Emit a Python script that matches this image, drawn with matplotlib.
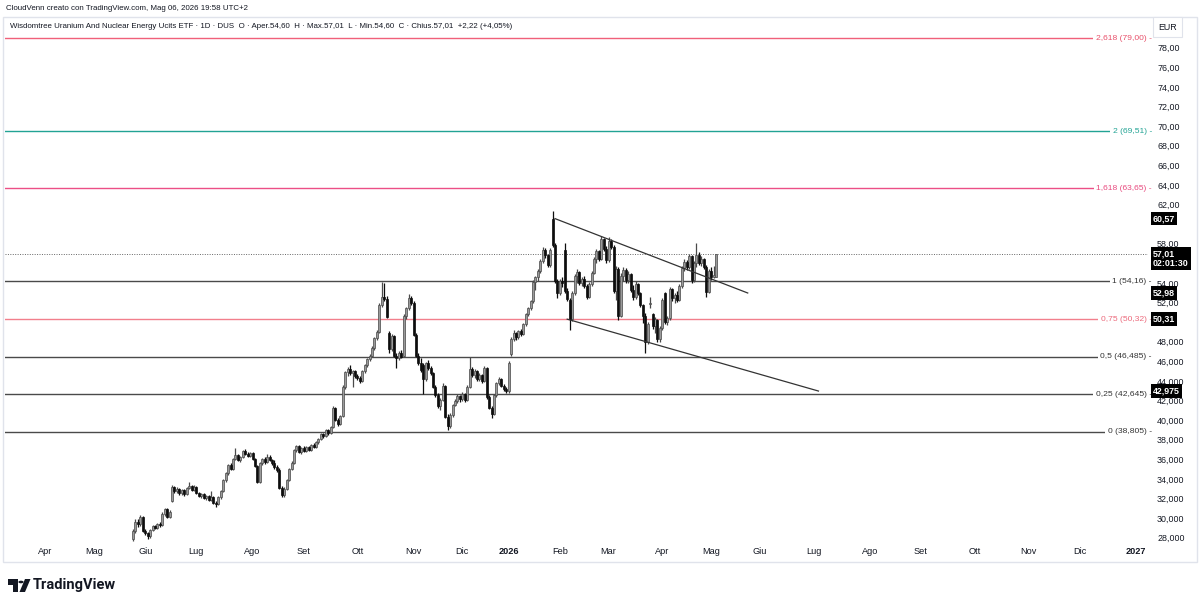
import numpy as np
import pandas as pd
import matplotlib
matplotlib.use("Agg")
import matplotlib.pyplot as plt
import matplotlib.transforms as mtransforms
from matplotlib.patches import Rectangle, Polygon, Circle
from matplotlib.ticker import FuncFormatter

# ---------------- data ----------------
first_date = "2025-05-26"
last_date = "2026-05-06"
holidays = ["2025-04-18", "2025-04-21", "2025-05-01", "2025-12-24", "2025-12-25",
            "2025-12-26", "2025-12-31", "2026-01-01", "2026-04-03", "2026-04-06",
            "2026-05-01"]

opens = [
    27.9, 28.7, 29.6, 29.4, 30.1, 28.7, 28.5, 28.2, 28.8, 29.2,
    29.0, 29.4, 29.3, 30.4, 30.9, 30.1, 31.8, 33.2, 32.8, 33.0,
    32.6, 32.9, 32.5, 33.1, 33.3, 32.9, 33.2, 32.6, 32.3, 32.5,
    32.1, 32.3, 31.9, 32.2, 31.6, 31.4, 32.2, 32.8, 33.9, 34.6,
    35.4, 35.0, 36.0, 36.5, 35.9, 36.2, 36.9, 36.6, 36.3, 36.7,
    36.0, 35.3, 33.7, 35.6, 36.0, 35.7, 36.2, 35.9, 35.6, 35.2,
    34.9, 33.1, 32.4, 33.0, 33.9, 35.0, 35.6, 37.0, 37.4, 36.8,
    37.2, 36.9, 37.3, 37.0, 37.5, 37.3, 37.8, 38.1, 38.6, 38.4,
    39.0, 38.7, 39.3, 41.2, 40.0, 39.6, 40.4, 43.4, 44.9, 45.2,
    44.8, 45.0, 44.5, 44.3, 44.0, 45.0, 45.6, 46.2, 46.6, 47.4,
    48.4, 49.0, 51.8, 52.6, 52.4, 48.9, 47.3, 48.6, 46.6, 46.3,
    46.9, 46.6, 50.6, 51.4, 52.5, 52.0, 48.7, 46.6, 45.8, 45.6,
    44.2, 45.8, 45.3, 44.8, 43.4, 42.6, 41.4, 42.1, 43.5, 40.3,
    39.4, 40.5, 41.6, 42.0, 42.5, 42.2, 42.7, 42.1, 43.4, 45.2,
    44.6, 45.0, 44.2, 44.6, 44.0, 45.3, 42.4, 41.2, 40.6, 42.6,
    43.8, 44.2, 43.5, 43.2, 43.0, 46.8, 48.3, 48.9, 48.5, 49.1,
    48.8, 49.8, 50.8, 51.4, 52.2, 54.1, 54.6, 55.2, 56.2, 57.4,
    56.9, 55.8, 60.5, 57.9, 54.2, 53.0, 54.2, 57.4, 53.2, 52.3,
    50.3, 53.0, 54.7, 55.1, 54.0, 54.4, 53.7, 52.6, 53.9, 55.0,
    56.5, 57.3, 56.4, 58.5, 57.5, 56.3, 58.3, 57.7, 53.2, 55.4,
    50.6, 54.7, 55.3, 54.3, 54.9, 53.3, 52.6, 53.9, 53.0, 51.8,
    50.6, 48.0, 51.9, 50.8, 49.6, 50.2, 48.3, 49.4, 53.0, 50.0,
    50.4, 53.4, 52.5, 52.8, 52.3, 53.7, 55.5, 56.1, 55.6, 56.8,
    54.3, 56.0, 56.9, 56.0, 56.5, 55.6, 53.1, 55.2, 54.6, 54.60,
]
highs = [
    28.9, 29.9, 29.9, 30.3, 30.2, 28.9, 28.6, 28.9, 29.3, 29.3,
    29.5, 29.6, 30.6, 31.0, 31.0, 30.8, 33.4, 33.3, 33.2, 33.1,
    33.0, 33.0, 33.2, 33.7, 33.4, 33.4, 33.3, 32.7, 32.6, 32.6,
    32.4, 32.4, 32.8, 32.3, 31.8, 32.3, 32.9, 34.0, 34.7, 35.5,
    35.6, 36.1, 37.2, 36.6, 36.3, 37.0, 37.1, 36.8, 36.8, 36.8,
    36.1, 35.4, 35.7, 36.1, 36.2, 36.6, 36.4, 36.0, 35.9, 35.4,
    35.1, 33.3, 33.2, 34.0, 35.1, 35.8, 37.1, 37.5, 37.5, 37.3,
    37.4, 37.4, 37.4, 37.6, 37.7, 37.9, 38.2, 38.7, 38.7, 39.1,
    39.1, 39.4, 41.5, 41.3, 40.2, 40.5, 43.6, 45.0, 45.4, 45.6,
    45.1, 45.1, 44.7, 44.5, 45.1, 45.7, 46.3, 46.8, 47.6, 48.5,
    49.2, 52.0, 54.1, 54.0, 52.7, 49.1, 48.8, 48.7, 46.9, 47.1,
    47.2, 50.8, 51.6, 52.9, 52.7, 52.2, 48.9, 46.9, 46.3, 45.8,
    45.9, 46.1, 45.5, 44.9, 43.6, 42.8, 42.3, 43.8, 43.6, 40.6,
    40.7, 41.7, 42.2, 42.7, 42.6, 42.9, 42.8, 43.6, 46.4, 45.4,
    45.2, 45.1, 44.8, 44.7, 45.5, 45.4, 42.6, 41.5, 42.7, 43.9,
    44.4, 44.3, 43.7, 43.4, 46.0, 48.5, 49.2, 49.0, 49.2, 49.3,
    49.9, 50.9, 51.6, 52.3, 54.3, 54.7, 55.4, 56.4, 57.7, 57.6,
    57.0, 57.6, 61.3, 58.1, 54.4, 54.4, 54.6, 58.1, 53.5, 52.5,
    53.2, 54.9, 55.4, 55.2, 54.6, 54.7, 53.9, 54.1, 55.2, 56.7,
    57.5, 57.4, 58.8, 58.6, 57.8, 58.7, 58.5, 57.9, 55.7, 55.6,
    55.0, 55.6, 55.5, 55.2, 55.0, 53.8, 54.2, 54.0, 53.1, 51.9,
    50.9, 50.0, 52.6, 50.9, 50.5, 50.3, 49.6, 52.5, 53.1, 50.6,
    53.6, 53.5, 53.0, 53.2, 53.9, 55.7, 56.4, 56.3, 57.0, 56.9,
    56.2, 58.1, 57.2, 56.8, 56.6, 55.8, 55.4, 55.6, 55.7, 57.01,
]
lows = [
    27.7, 28.5, 29.1, 29.2, 28.6, 28.3, 27.9, 28.0, 28.7, 28.9,
    28.9, 29.1, 29.2, 30.2, 30.0, 30.0, 31.7, 32.6, 32.6, 32.4,
    32.4, 32.3, 32.4, 33.0, 32.8, 32.8, 32.5, 32.2, 32.1, 32.0,
    31.9, 31.8, 31.8, 31.5, 31.1, 31.3, 32.0, 32.7, 33.7, 34.4,
    34.9, 34.9, 35.9, 35.8, 35.7, 36.1, 36.5, 36.2, 36.2, 35.9,
    35.2, 33.6, 33.6, 35.4, 35.5, 35.6, 35.8, 35.4, 35.0, 34.7,
    33.0, 32.2, 32.2, 32.9, 33.8, 34.9, 35.5, 36.8, 36.7, 36.6,
    36.8, 36.8, 36.9, 36.9, 37.2, 37.2, 37.6, 38.0, 38.2, 38.3,
    38.5, 38.6, 39.2, 39.9, 39.4, 39.5, 40.3, 43.2, 44.5, 44.6,
    43.4, 44.3, 44.1, 43.8, 43.9, 44.8, 45.4, 46.0, 46.4, 47.2,
    48.2, 48.9, 51.6, 52.2, 50.4, 46.9, 47.1, 46.5, 45.3, 46.1,
    46.3, 46.5, 50.3, 51.2, 51.8, 48.6, 46.4, 45.6, 44.9, 42.7,
    44.0, 45.1, 44.6, 43.3, 42.4, 41.2, 41.0, 42.0, 40.2, 39.0,
    39.2, 40.3, 41.4, 41.8, 41.9, 42.0, 41.9, 42.0, 43.3, 44.4,
    44.3, 44.0, 44.0, 43.8, 43.9, 42.2, 41.1, 40.2, 40.5, 42.4,
    43.6, 43.4, 43.0, 42.8, 42.8, 46.6, 48.1, 48.2, 48.3, 48.6,
    48.7, 49.6, 50.6, 51.2, 52.0, 53.3, 54.2, 55.0, 56.0, 56.6,
    55.6, 55.6, 57.7, 54.0, 52.5, 52.8, 53.6, 53.0, 52.2, 49.2,
    50.1, 52.8, 54.0, 53.8, 53.7, 53.5, 52.4, 52.5, 53.7, 54.9,
    56.0, 56.2, 56.3, 57.3, 56.0, 56.1, 57.5, 53.0, 52.3, 50.2,
    50.5, 54.2, 54.0, 54.0, 53.1, 52.3, 52.4, 52.8, 51.6, 49.9,
    46.9, 47.8, 51.5, 49.3, 48.9, 48.0, 48.0, 49.2, 49.8, 49.7,
    50.2, 52.2, 52.0, 52.1, 52.2, 53.5, 55.2, 55.3, 55.4, 54.0,
    54.1, 55.6, 55.8, 55.7, 55.4, 52.6, 53.0, 54.3, 54.5, 54.60,
]
closes = [
    28.7, 29.6, 29.4, 30.1, 28.7, 28.5, 28.2, 28.8, 29.2, 29.0,
    29.4, 29.3, 30.4, 30.9, 30.1, 30.6, 33.2, 32.8, 33.0, 32.6,
    32.9, 32.5, 33.1, 33.3, 32.9, 33.2, 32.6, 32.3, 32.5, 32.1,
    32.3, 31.9, 32.2, 31.6, 31.4, 32.2, 32.8, 33.9, 34.6, 35.4,
    35.0, 36.0, 36.5, 35.9, 36.2, 36.9, 36.6, 36.3, 36.7, 36.0,
    35.3, 33.7, 35.6, 36.0, 35.7, 36.2, 35.9, 35.6, 35.2, 34.9,
    33.1, 32.4, 33.0, 33.9, 35.0, 35.6, 37.0, 37.4, 36.8, 37.2,
    36.9, 37.3, 37.0, 37.5, 37.3, 37.8, 38.1, 38.6, 38.4, 39.0,
    38.7, 39.3, 41.2, 40.0, 39.6, 40.4, 43.4, 44.9, 45.2, 44.8,
    45.0, 44.5, 44.3, 44.0, 45.0, 45.6, 46.2, 46.6, 47.4, 48.4,
    49.0, 51.8, 52.6, 52.4, 50.5, 47.3, 48.6, 46.6, 46.3, 46.9,
    46.5, 50.6, 51.4, 52.5, 52.0, 48.7, 46.6, 45.8, 45.1, 44.2,
    45.8, 45.3, 44.8, 43.4, 42.6, 41.4, 42.1, 43.5, 40.3, 39.4,
    40.5, 41.6, 42.0, 42.5, 42.2, 42.7, 42.1, 43.4, 45.2, 44.6,
    45.0, 44.2, 44.6, 44.0, 45.3, 42.4, 41.2, 40.6, 42.6, 43.8,
    44.2, 43.5, 43.2, 43.0, 45.8, 48.3, 48.9, 48.5, 49.1, 48.8,
    49.8, 50.8, 51.4, 52.2, 54.1, 54.6, 55.2, 56.2, 57.4, 56.9,
    55.8, 57.4, 57.9, 54.2, 53.0, 54.2, 54.0, 53.2, 52.4, 50.3,
    53.0, 54.7, 55.1, 54.0, 54.4, 53.7, 52.6, 53.9, 55.0, 56.5,
    57.3, 56.4, 58.5, 57.5, 56.3, 58.3, 57.7, 53.2, 55.4, 50.6,
    54.7, 55.3, 54.3, 54.9, 53.3, 52.6, 53.9, 53.0, 51.8, 50.6,
    48.0, 49.8, 52.0, 49.6, 50.3, 48.3, 49.4, 52.3, 50.0, 50.4,
    53.4, 52.5, 52.8, 52.3, 53.7, 55.5, 56.1, 55.6, 56.8, 54.3,
    56.0, 56.9, 56.0, 56.5, 55.6, 53.1, 55.2, 54.6, 54.79, 57.01,
]

fib_ratios = ["2,618", "2", "1,618", "1", "0,75", "0,5", "0,25", "0"]
fib_levels = [79.00, 69.51, 63.65, 54.16, 50.32, 46.485, 42.645, 38.805]
fib_labels = ["79,00", "69,51", "63,65", "54,16", "50,32", "46,485", "42,645", "38,805"]
fib_colors = ["#f0607a", "#22a394", "#ec4f86", "#4a4a4a", "#f27f8c", "#4a4a4a", "#4a4a4a", "#4a4a4a"]
fib_text_colors = ["#e8506a", "#22a394", "#e84a7f", "#333333", "#ec6a7c", "#333333", "#333333", "#333333"]

# trend lines: bar offsets from the first candle and prices
upper_x = [173, 252]
upper_y = [60.57, 52.98]
lower_x = [178, 281]
lower_y = [50.31, 42.975]

last_price = 57.01
countdown = "02:01:30"
axis_labels = [(60.57, "60,57"), (52.98, "52,98"), (50.31, "50,31"), (42.975, "42,975")]
price_ticks = [28, 30, 32, 34, 36, 38, 40, 42, 44, 46, 48, 52, 54, 58,
               62, 64, 66, 68, 70, 72, 74, 76, 78]
month_names = ["Gen", "Feb", "Mar", "Apr", "Mag", "Giu", "Lug", "Ago", "Set", "Ott", "Nov", "Dic"]

header = "CloudVenn creato con TradingView.com, Mag 06, 2026 19:58 UTC+2"
title = ("Wisdomtree Uranium And Nuclear Energy Ucits ETF · 1D · DUS  O · Aper.54,60  "
         "H · Max.57,01  L · Min.54,60  C · Chius.57,01  +2,22 (+4,05%)")

# ---------------- figure ----------------
plt.rcParams['font.family'] = ['Liberation Sans', 'DejaVu Sans']
W, H = 1200, 600
fig = plt.figure(figsize=(12, 6), dpi=100)
fig.patch.set_facecolor("white")


def fx(px):
    return px / W


def fy(py):
    return 1 - py / H


ax = fig.add_axes([fx(5), fy(543), fx(1148) - fx(5), fy(17) - fy(543)])
ax.set_facecolor("white")
for s in ax.spines.values():
    s.set_visible(False)

# calendar of bars (weekdays, exchange holidays removed)
cal = pd.bdate_range("2025-02-03", "2027-02-26")
cal = cal[~cal.isin(pd.to_datetime(holidays))]
last_idx = cal.get_loc(pd.Timestamp(last_date))
n = len(closes)
first_idx = last_idx - n + 1
xs = np.arange(first_idx, last_idx + 1)

o = np.array(opens)
h = np.array(highs)
l = np.array(lows)
c = np.array(closes)
up = c >= o

ppb = (716 - 133) / (n - 1)
ax.set_xlim(first_idx - (133 - 5) / ppb, last_idx + (1148 - 716) / ppb)
ax.set_ylim(79 - (543 - 38) / 9.8, 79 + (38 - 17) / 9.8)

# fib lines
for lev, col in zip(fib_levels, fib_colors):
    ax.axhline(lev, color=col, lw=1.0, zorder=1)

# last price dotted line
ax.axhline(last_price, color="#666666", lw=0.7, ls=(0, (1, 1.5)), zorder=1)

# candles
up_face, up_edge, dn_col = "#9a9a9a", "#4a4a4a", "#0d0d0d"
ax.vlines(xs[up], l[up], h[up], color=up_edge, lw=0.9, zorder=3)
ax.vlines(xs[~up], l[~up], h[~up], color=dn_col, lw=0.9, zorder=3)
body_lo = np.minimum(o, c)
body_h = np.maximum(np.abs(c - o), 0.1)
ax.bar(xs[up], body_h[up], bottom=body_lo[up], width=0.82, color=up_face,
       edgecolor=up_edge, linewidth=0.5, zorder=4)
ax.bar(xs[~up], body_h[~up], bottom=body_lo[~up], width=0.82, color=dn_col,
       edgecolor=dn_col, linewidth=0.5, zorder=4)

# trend lines
ax.plot(first_idx + np.array(upper_x), upper_y, color="#333333", lw=0.9, zorder=5)
ax.plot(first_idx + np.array(lower_x), lower_y, color="#333333", lw=0.9, zorder=5)

# fib labels on the right
tr = mtransforms.blended_transform_factory(fig.transFigure, ax.transData)
for r, lev, lab, tc in zip(fib_ratios, fib_levels, fib_labels, fib_text_colors):
    ax.text(fx(1152), lev, f"{r} ({lab}) -", transform=tr, ha="right", va="center",
            fontsize=6.1, color=tc, clip_on=False, zorder=6,
            bbox=dict(boxstyle="square,pad=0.3", fc="white", ec="none"))

# y axis (right)
ax.yaxis.tick_right()
ax.set_yticks(price_ticks)
ax.yaxis.set_major_formatter(FuncFormatter(
    lambda v, p: (f"{v:.2f}" if v >= 50 else f"{v:.3f}").replace(".", ",")))
ax.tick_params(axis="y", length=0, pad=6.5, labelsize=6.4, labelcolor="#131722")

# x axis month labels
ticks, labels = [], []
x0, x1 = ax.get_xlim()
seen = set()
for i, d in enumerate(cal):
    key = (d.year, d.month)
    if key in seen:
        continue
    seen.add(key)
    if x0 + 5 < i < x1 - 5:
        ticks.append(i)
        labels.append(str(d.year) if d.month == 1 else month_names[d.month - 1])
ax.set_xticks(ticks)
ax.set_xticklabels(labels)
ax.tick_params(axis="x", length=0, pad=3, labelsize=6.6, labelcolor="#131722")
for t in ax.get_xticklabels():
    if t.get_text().isdigit():
        t.set_fontweight("bold")

# black price labels on the axis
for v, s in axis_labels:
    ax.text(fx(1153), v, s, transform=tr, ha="left", va="center", fontsize=6.4,
            color="white", fontweight="bold", clip_on=False, zorder=7,
            bbox=dict(boxstyle="square,pad=0.25", fc="black", ec="none"))
# last price label with countdown (first line centred on the price)
tr_up = mtransforms.offset_copy(tr, fig=fig, x=0, y=4.5, units="dots")
ax.text(fx(1153), last_price, f"{last_price:.2f}".replace(".", ",") + "\n" + countdown,
        transform=tr_up, ha="left", va="top", fontsize=6.4, color="white",
        fontweight="bold", clip_on=False, zorder=7, linespacing=1.15,
        bbox=dict(boxstyle="square,pad=0.25", fc="black", ec="none"))

# EUR box
fig.text(fx(1158), fy(27), "EUR", fontsize=6.4, color="#131722", va="center", ha="left",
         bbox=dict(boxstyle="square,pad=0.6", fc="white", ec="#e0e3eb", lw=0.8))

# frame
fig.patches.append(Rectangle((fx(3), fy(562)), fx(1197) - fx(3), fy(17) - fy(562),
                             transform=fig.transFigure, fill=False, ec="#e0e3eb", lw=1))

# header and title
fig.text(fx(6), fy(8), header, fontsize=5.7, color="#131722", va="center", ha="left")
fig.text(fx(10), fy(27), title, fontsize=5.7, color="#131722", va="center", ha="left")

# TradingView logo
fig.patches.append(Rectangle((fx(8), fy(585)), fx(17.5) - fx(8), fy(579) - fy(585),
                             transform=fig.transFigure, fc="#131722", ec="none"))
fig.patches.append(Rectangle((fx(12.5), fy(592)), fx(17.5) - fx(12.5), fy(579) - fy(592),
                             transform=fig.transFigure, fc="#131722", ec="none"))
fig.patches.append(Circle((fx(21), fy(582)), 2.6 / W, transform=fig.transFigure,
                          fc="#131722", ec="none"))
fig.patches.append(Polygon([(fx(25), fy(579)), (fx(30.5), fy(579)),
                            (fx(25), fy(592)), (fx(19.5), fy(592))],
                           closed=True, transform=fig.transFigure, fc="#131722", ec="none"))
fig.text(fx(33), fy(585.5), "TradingView", fontsize=10.5, fontweight="bold",
         family=["Roboto", "DejaVu Sans"], color="#131722", va="center", ha="left")

fig.savefig("out.png", dpi=100, facecolor="white")
